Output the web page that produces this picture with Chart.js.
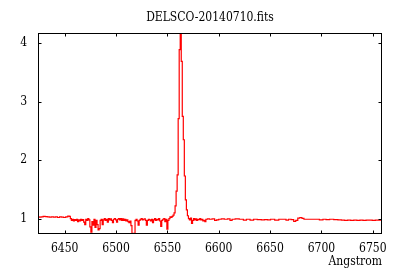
<!DOCTYPE html>
<html>
<head>
<meta charset="utf-8">
<script src="https://cdn.jsdelivr.net/npm/chart.js@4"></script>
<style>
  html, body { margin: 0; padding: 0; background: #fff; }
  canvas { display: block; }
</style>
</head>
<body>
<canvas id="spec" width="400" height="280"></canvas>
<script>
// wavelength (Angstrom) and normalised flux
var wavelength = [
  6424, 6426, 6428, 6430, 6432, 6434, 6436, 6438, 6440, 6442, 6444, 6446, 6448, 6450, 6452, 6454, 6455,
  6456, 6457, 6458, 6459, 6460, 6461, 6462, 6463, 6464, 6465, 6466, 6467, 6468, 6469, 6470,
  6471, 6472, 6473, 6474, 6475, 6476, 6477, 6478, 6479, 6480, 6481, 6482, 6483, 6484, 6485,
  6486, 6487, 6488, 6489, 6490, 6491, 6492, 6493, 6494, 6495, 6496, 6497, 6498, 6499, 6500,
  6501, 6502, 6503, 6504, 6505, 6506, 6507, 6508, 6509, 6510, 6511, 6512, 6513, 6514, 6515,
  6516, 6517, 6518, 6519, 6520, 6521, 6522, 6523, 6524, 6525, 6526, 6527, 6528, 6529, 6530,
  6531, 6532, 6533, 6534, 6535, 6536, 6537, 6538, 6539, 6540, 6541, 6542, 6543, 6544, 6545,
  6546, 6547, 6548, 6549, 6550, 6551, 6552, 6553, 6554, 6555,
  6556, 6557, 6558, 6559, 6560, 6561, 6562, 6563, 6564, 6565, 6566, 6567, 6568, 6569, 6570,
  6571, 6572, 6573, 6574, 6575, 6576, 6577, 6578, 6579, 6580, 6581, 6582, 6583, 6584, 6585,
  6586, 6587, 6588, 6590, 6592, 6595, 6597, 6599, 6601, 6604, 6607, 6610, 6612, 6614, 6618,
  6622, 6626, 6628, 6633, 6635, 6640, 6643, 6646, 6649, 6652, 6657, 6660, 6664, 6667, 6669,
  6672, 6674, 6676, 6678, 6680, 6682, 6684, 6688, 6692, 6696, 6700, 6703, 6706, 6710, 6714,
  6718, 6721, 6724, 6727, 6730, 6733, 6736, 6739, 6742, 6745, 6748, 6751, 6754, 6757, 6760
];
var flux = [
  1.03, 1.025, 1.03, 1.04, 1.035, 1.03, 1.025, 1.03, 1.025, 1.03, 1.02, 1.03, 1.025, 1.02, 1.03, 1.045, 1.04,
  1.0, 0.97, 0.99, 0.96, 0.985, 0.97, 0.99, 0.95, 0.98, 0.96, 0.99, 0.97, 0.985, 0.94, 0.90,
  0.99, 0.97, 1.0, 0.98, 0.86, 0.77, 0.95, 0.89, 0.99, 0.85, 0.97, 0.90, 0.81, 0.83, 0.97,
  0.99, 0.90, 0.98, 1.0, 0.97, 0.99, 0.94, 1.0, 0.98, 0.995, 0.97, 0.93, 0.99, 1.0, 0.98,
  0.94, 0.99, 1.0, 0.98, 1.0, 0.97, 0.995, 0.97, 0.99, 0.96, 0.98, 0.95, 0.93, 0.96, 0.88,
  0.74, 0.75, 0.74, 0.97, 0.99, 0.96, 0.89, 0.97, 0.99, 1.0, 0.98, 0.99, 0.995, 0.97, 0.89,
  0.97, 0.99, 0.98, 0.96, 0.99, 0.93, 0.98, 1.0, 0.97, 0.99, 0.98, 1.0, 0.96, 0.87, 0.97,
  0.99, 1.0, 0.95, 0.99, 0.82, 0.97, 1.0, 1.03, 1.02, 1.04,
  1.06, 1.10, 1.22, 1.47, 1.75, 2.71, 3.89, 4.15, 3.69, 2.75, 2.35, 1.73, 1.32, 1.15, 1.05,
  1.0, 0.98, 1.01, 0.92, 0.97, 1.0, 0.98, 0.995, 0.97, 0.99, 0.985, 1.0, 0.98, 0.99, 0.96,
  0.97, 0.95, 0.99, 0.995, 0.99, 0.995, 0.97, 0.98, 0.99, 0.995, 0.99, 0.995, 0.97, 0.99, 0.995,
  0.99, 0.975, 0.99, 0.975, 0.99, 0.985, 0.98, 0.985, 0.98, 0.99, 0.975, 0.99, 0.99, 0.975, 0.99,
  0.985, 0.955, 0.97, 1.01, 1.02, 1.005, 0.99, 0.99, 0.99, 0.99, 0.98, 0.99, 0.985, 0.99, 0.985,
  0.98, 0.975, 0.97, 0.975, 0.97, 0.975, 0.97, 0.975, 0.97, 0.975, 0.975, 0.97, 0.975, 0.975, 0.975
];

var xTicks = [6450, 6500, 6550, 6600, 6650, 6700, 6750];
var yTicks = [1, 2, 3, 4];

var serif = { family: "'DejaVu Serif Condensed', 'DejaVu Serif', serif", size: 12, weight: 'normal' };

// black frame with short inward tick marks on all four sides
var framePlugin = {
  id: 'frame',
  afterDraw: function (chart) {
    var ctx = chart.ctx;
    var a = chart.chartArea;
    var sx = chart.scales.x, sy = chart.scales.y;
    var L = Math.round(a.left) + 0.5, R = Math.round(a.right) - 0.5;
    var T = Math.round(a.top) + 0.5, B = Math.round(a.bottom) - 0.5;
    var len = 3;
    ctx.save();
    ctx.strokeStyle = '#000';
    ctx.lineWidth = 1;
    ctx.strokeRect(L, T, R - L, B - T);
    ctx.beginPath();
    xTicks.forEach(function (v) {
      var px = Math.round(sx.getPixelForValue(v)) + 0.5;
      ctx.moveTo(px, B); ctx.lineTo(px, B - len);
      ctx.moveTo(px, T); ctx.lineTo(px, T + len);
    });
    yTicks.forEach(function (v) {
      var py = Math.round(sy.getPixelForValue(v)) + 0.5;
      ctx.moveTo(L, py); ctx.lineTo(L + len, py);
      ctx.moveTo(R, py); ctx.lineTo(R - len, py);
    });
    ctx.stroke();
    ctx.restore();
  }
};

var points = wavelength.map(function (w, i) { return { x: w, y: flux[i] }; });

new Chart(document.getElementById('spec').getContext('2d'), {
  type: 'line',
  data: {
    datasets: [{
      data: points,
      borderColor: '#ff0000',
      borderWidth: 1.2,
      pointRadius: 0,
      stepped: 'middle',
      fill: false
    }]
  },
  options: {
    responsive: false,
    animation: false,
    layout: { padding: { left: 0, right: 18, top: 0, bottom: 0 } },
    plugins: {
      legend: { display: false },
      tooltip: { enabled: false },
      title: {
        display: true,
        fullSize: false,
        text: 'DELSCO-20140710.fits',
        color: '#000',
        font: serif,
        padding: { top: 11, bottom: 7.6 }
      }
    },
    scales: {
      x: {
        type: 'linear',
        min: 6424,
        max: 6759,
        grid: { display: false, drawTicks: false },
        border: { display: false },
        afterBuildTicks: function (s) { s.ticks = xTicks.map(function (v) { return { value: v }; }); },
        afterFit: function (s) { s.height = 46; },
        ticks: {
          font: serif, color: '#000', padding: 8, maxRotation: 0, autoSkip: false,
          callback: function (v) { return String(v); }
        },
        title: {
          display: true,
          text: 'Angstrom',
          align: 'end',
          color: '#000',
          font: serif,
          padding: { top: 0, bottom: 11 }
        }
      },
      y: {
        min: 0.738,
        max: 4.176,
        grid: { display: false, drawTicks: false },
        border: { display: false },
        afterBuildTicks: function (s) { s.ticks = yTicks.map(function (v) { return { value: v }; }); },
        afterFit: function (s) { s.width = 38; },
        ticks: {
          font: serif, color: '#000', padding: 11,
          callback: function (v) { return String(v); }
        }
      }
    }
  },
  plugins: [framePlugin]
});
</script>
</body>
</html>
